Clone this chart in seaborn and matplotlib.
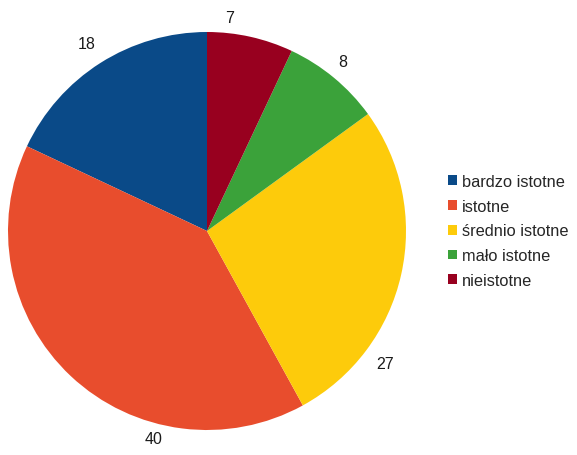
import matplotlib
matplotlib.use("Agg")
import matplotlib.pyplot as plt
import numpy as np
import seaborn as sns

categories = ["bardzo istotne", "istotne", "średnio istotne", "mało istotne", "nieistotne"]
values = [18, 40, 27, 8, 7]
colors = ["#0a4a88", "#e84d2d", "#fdcb0b", "#3ba23a", "#98001f"]

# where each value label sits, in pie-radius units from the centre
label_xy = [(-0.603, 0.940), (-0.271, -1.045), (0.894, -0.668), (0.683, 0.854), (0.111, 1.075)]

sns.set_theme(style="white")
plt.rcParams["font.family"] = ["Liberation Sans", "DejaVu Sans"]

fig = plt.figure(figsize=(5.77, 4.56), dpi=100)
ax = fig.add_axes([8 / 577, 25 / 456, 398 / 577, 398 / 456])

palette = sns.color_palette(colors)
wedges, _ = ax.pie(values, colors=palette, startangle=90, counterclock=True,
                   radius=1.0, wedgeprops=dict(linewidth=0))
ax.set_xlim(-1, 1)
ax.set_ylim(-1, 1)
ax.set_aspect("equal")
ax.axis("off")

for v, (x, y) in zip(values, label_xy):
    ax.text(x, y, str(v), ha="center", va="center", fontsize=11.5, color="#1a1a1a",
            clip_on=False)

fig.legend(wedges, categories, loc="center left", bbox_to_anchor=(441 / 577, 1 - 232 / 456),
           frameon=False, fontsize=11.8, handlelength=0.55, handleheight=0.55,
           handletextpad=0.35, labelspacing=0.6, borderaxespad=0)

fig.savefig("out.png", dpi=100, facecolor="white")
